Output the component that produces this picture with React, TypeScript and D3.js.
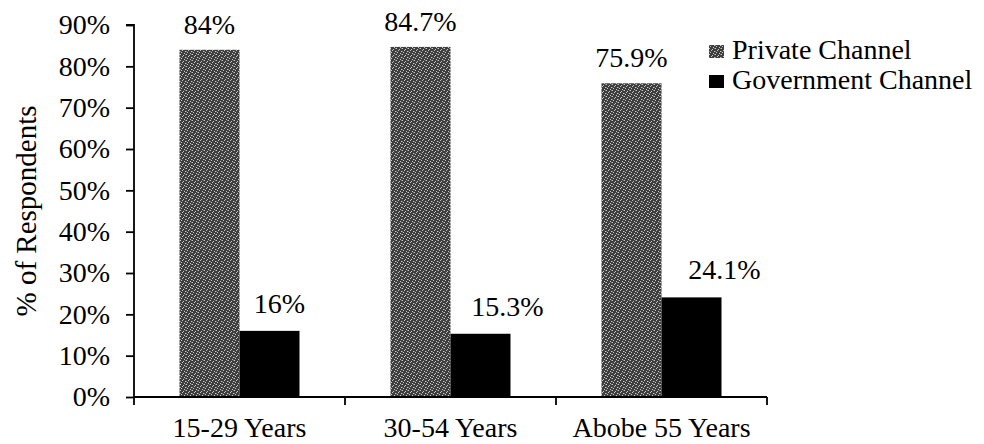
import { useEffect, useRef } from "react";
import * as d3 from "d3";

const categories = ["15-29 Years", "30-54 Years", "Abobe 55 Years"];
const seriesNames = ["Private Channel", "Government Channel"];
const privateValues = [84, 84.7, 75.9];
const governmentValues = [16, 15.3, 24.1];
const valueLabels = [["84%", "84.7%", "75.9%"], ["16%", "15.3%", "24.1%"]];
const yTicks = [0, 10, 20, 30, 40, 50, 60, 70, 80, 90];

// label nudges (px) to match where the original put its value labels
const labelDx = [[0, 0, 0], [10, 27, 33]];
const labelDy = [16, 18];

const FONT = "'Liberation Serif', 'Times New Roman', serif";

export default function App() {
  const svgRef = useRef<SVGSVGElement | null>(null);

  useEffect(() => {
    if (!svgRef.current) return;
    const width = 984;
    const height = 444;
    const svg = d3.select(svgRef.current);
    svg.selectAll("*").remove();
    svg.attr("width", width).attr("height", height);

    // speckled grey fill for the private bars
    const defs = svg.append("defs");
    const pat = defs.append("pattern")
      .attr("id", "speckle")
      .attr("patternUnits", "userSpaceOnUse")
      .attr("width", 6)
      .attr("height", 6);
    pat.append("rect").attr("width", 6).attr("height", 6).attr("fill", "#3e3e3e");
    [[0, 0], [3, 1], [5, 3], [1, 4], [4, 5], [2, 2], [0, 3], [5, 0]].forEach(([px, py], i) => {
      pat.append("rect")
        .attr("x", px).attr("y", py).attr("width", 1).attr("height", 1)
        .attr("fill", i > 5 ? "#7a7a7a" : "#c8c8c8");
    });

    const left = 134;
    const right = 767;
    const y = d3.scaleLinear().domain([0, 90]).range([397, 25]);
    const xCat = d3.scaleBand<string>().domain(categories).range([left, right]);
    const groupW = 120;
    const x1 = d3.scaleBand<string>().domain(seriesNames).range([0, groupW]);
    const groupX = (c: string) => xCat(c)! + (xCat.bandwidth() - groupW) / 2;
    const fills = ["url(#speckle)", "#000"];
    const values = [privateValues, governmentValues];

    // bars
    seriesNames.forEach((s, si) => {
      svg.append("g")
        .selectAll("rect")
        .data(values[si])
        .enter()
        .append("rect")
        .attr("x", (_, i) => groupX(categories[i]) + x1(s)!)
        .attr("y", d => y(d))
        .attr("width", x1.bandwidth())
        .attr("height", d => y(0) - y(d))
        .attr("fill", fills[si]);

      svg.append("g")
        .selectAll("text")
        .data(values[si])
        .enter()
        .append("text")
        .attr("x", (_, i) => groupX(categories[i]) + x1(s)! + x1.bandwidth() / 2 + labelDx[si][i])
        .attr("y", d => y(d) - labelDy[si])
        .attr("text-anchor", "middle")
        .attr("font-family", FONT)
        .attr("font-size", 28)
        .attr("fill", "#000")
        .text((_, i) => valueLabels[si][i]);
    });

    // y axis
    const yAxis = svg.append("g")
      .attr("transform", `translate(${left},0)`)
      .call(d3.axisLeft(y).tickValues(yTicks).tickSize(8).tickPadding(16).tickFormat(d => `${d}%`));
    yAxis.select(".domain").attr("stroke", "#000").attr("stroke-width", 1.8).attr("d", `M-8,${y(90)}H0V${y(0)}`);
    yAxis.selectAll(".tick line").attr("stroke", "#000").attr("stroke-width", 1.8);
    yAxis.selectAll("text")
      .attr("font-family", FONT)
      .attr("font-size", 28)
      .attr("fill", "#000");

    // x axis
    svg.append("line")
      .attr("x1", left).attr("x2", right)
      .attr("y1", y(0)).attr("y2", y(0))
      .attr("stroke", "#000").attr("stroke-width", 1.8);
    const bounds = categories.map(c => xCat(c)!).concat([right]);
    svg.append("g")
      .selectAll("line")
      .data(bounds)
      .enter()
      .append("line")
      .attr("x1", d => d).attr("x2", d => d)
      .attr("y1", y(0)).attr("y2", y(0) + 8)
      .attr("stroke", "#000").attr("stroke-width", 1.8);
    svg.append("g")
      .selectAll("text")
      .data(categories)
      .enter()
      .append("text")
      .attr("x", d => xCat(d)! + xCat.bandwidth() / 2)
      .attr("y", 437)
      .attr("text-anchor", "middle")
      .attr("font-family", FONT)
      .attr("font-size", 28)
      .text(d => d);

    // y title
    svg.append("text")
      .attr("transform", `translate(36,${(y(0) + y(90)) / 2}) rotate(-90)`)
      .attr("text-anchor", "middle")
      .attr("font-family", FONT)
      .attr("font-size", 29)
      .text("% of Respondents");

    // legend
    const legend = svg.append("g").attr("transform", "translate(709,0)");
    seriesNames.forEach((s, i) => {
      const cy = 51 + i * 30;
      legend.append("rect")
        .attr("x", 0).attr("y", cy - 6)
        .attr("width", 15).attr("height", 13)
        .attr("fill", fills[i]);
      legend.append("text")
        .attr("x", 23).attr("y", cy + 8)
        .attr("font-family", FONT)
        .attr("font-size", 28)
        .text(s);
    });
  }, []);

  return (
    <div style={{ position: "absolute", left: 0, top: 0 }}>
      <svg ref={svgRef} style={{ display: "block", background: "#fff" }} />
    </div>
  );
}
